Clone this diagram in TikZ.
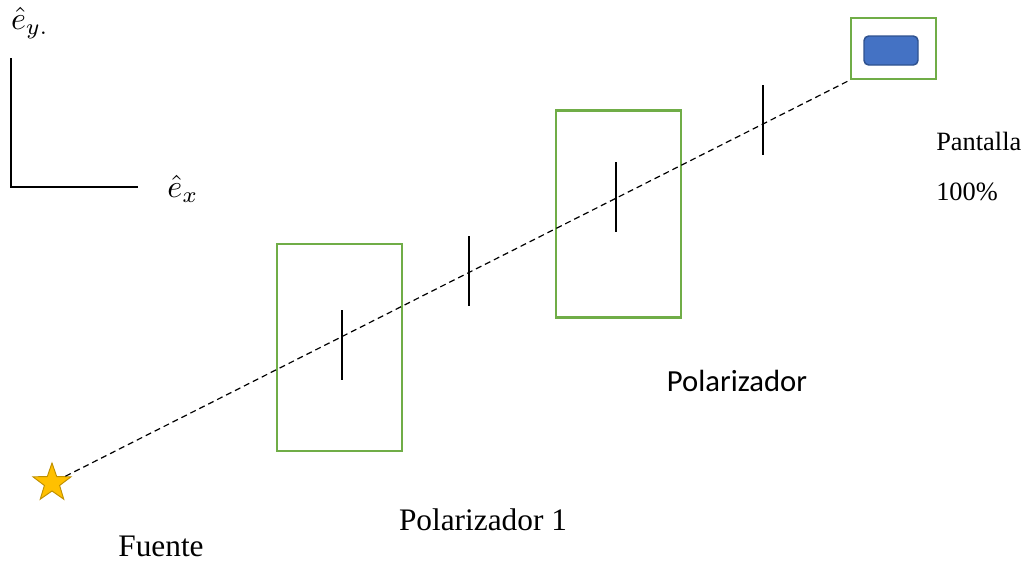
\documentclass[tikz,border=0pt]{standalone}
\usepackage{fontspec}
\setmainfont{Liberation Serif}
\newfontfamily\calib{Carlito}
\usetikzlibrary{shapes.geometric}
\definecolor{pgreen}{HTML}{70AD47}
\definecolor{pblue}{HTML}{4472C4}
\definecolor{pbluedark}{HTML}{2F528F}
\definecolor{pstar}{HTML}{FFC000}
\definecolor{pstardark}{HTML}{BF9000}
\tikzset{
  polbox/.style={draw=pgreen, line width=1.6pt, minimum width=93.75pt, minimum height=155.25pt, inner sep=0pt},
  tick/.style={line width=0.9pt},
  beam/.style={dash pattern=on 4.5pt off 3pt, line width=0.9pt},
  serif/.style={font=\fontsize{23.5}{26}\selectfont, inner sep=0pt},
  mathlbl/.style={inner sep=0pt, scale=2.4},
}
\begin{document}
\begin{tikzpicture}[x=0.75pt,y=-0.75pt]
\useasboundingbox (0,0) rectangle (1026,562);
% axes
\coordinate (origin) at (11,187);
\coordinate (ytop) at (11,58);
\coordinate (xend) at (138,187);
\draw[line width=0.9pt] (ytop) -- (origin) -- (xend);
\node[mathlbl] (ey) at (30,23) {$\hat{e}_{y.}$};
\node[mathlbl] (ex) at (183,189) {$\hat{e}_{x}$};
% polarizers
\node[polbox] (p1) at (339.5,347.5) {};
\node[polbox] (p2) at (618.5,214) {};
% screen
\node[draw=pgreen, line width=1.6pt, minimum width=63.75pt, minimum height=45.75pt, inner sep=0pt] (screen) at (893.5,48.5) {};
\node[draw=pbluedark, fill=pblue, line width=1.1pt, rounded corners=3.5pt, minimum width=40.5pt, minimum height=21.75pt, inner sep=0pt] (det) at (891,50.5) {};
% source
\node[star, star points=5, star point ratio=2.5, fill=pstar, draw=pstardark, line width=0.7pt, minimum size=30pt, inner sep=0pt] (src) at (52,483) {};
% beam
\draw[beam] (src) -- (screen.south west);
% ticks
\coordinate (t1a) at (342,310); \coordinate (t1b) at (342,380);
\coordinate (t2a) at (469,236); \coordinate (t2b) at (469,306);
\coordinate (t3a) at (616,162); \coordinate (t3b) at (616,232);
\coordinate (t4a) at (763,85);  \coordinate (t4b) at (763,155);
\draw[tick] (t1a) -- (t1b);
\draw[tick] (t2a) -- (t2b);
\draw[tick] (t3a) -- (t3b);
\draw[tick] (t4a) -- (t4b);
% labels
\node[inner sep=0pt, font=\fontsize{19.8}{22}\selectfont, anchor=west] (pant) at (936,141) {Pantalla};
\node[inner sep=0pt, font=\fontsize{19.8}{22}\selectfont, anchor=west] (pct) at (936,192) {100\%};
\node[inner sep=0pt, font=\calib\fontsize{23}{26}\selectfont] (pol2) at (737,381) {Polarizador};
\node[serif] (pol1) at (483,520) {Polarizador 1};
\node[serif] (fuente) at (161,546) {Fuente};
\end{tikzpicture}
\end{document}
